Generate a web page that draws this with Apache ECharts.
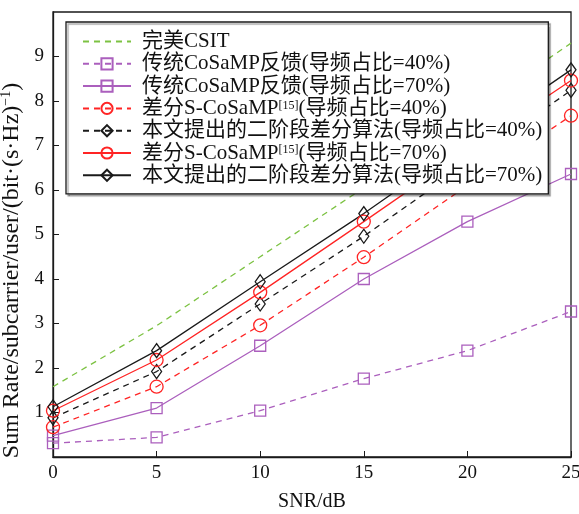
<!DOCTYPE html>
<html>
<head>
<meta charset="utf-8">
<script src="https://cdn.jsdelivr.net/npm/echarts@6/dist/echarts.min.js"></script>
<style>
  html, body { margin: 0; padding: 0; background: #fff; }
  #chart { width: 579px; height: 514px; }
</style>
</head>
<body>
<div id="chart"></div>
<script>
  // SNR (dB)
  const snr = [0, 5, 10, 15, 20, 25];

  // sum rate values
  const perfectCsit = [1.58, 2.95, 4.5, 6.05, 7.7, 9.3];
  const cosamp40 = [0.31, 0.44, 1.04, 1.76, 2.39, 3.27];
  const cosamp70 = [0.48, 1.10, 2.50, 4.00, 5.29, 6.36];
  const sCosamp40 = [0.67, 1.58, 2.96, 4.49, 6.1, 7.67];
  const proposed40 = [0.88, 1.92, 3.44, 4.96, 6.6, 8.24];
  const sCosamp70 = [1.04, 2.18, 3.70, 5.29, 6.9, 8.46];
  const proposed70 = [1.13, 2.39, 3.94, 5.47, 7.1, 8.70];

  const seriesNames = [
    '完美CSIT',
    '传统CoSaMP反馈(导频占比=40%)',
    '传统CoSaMP反馈(导频占比=70%)',
    '差分S-CoSaMP[15](导频占比=40%)',
    '本文提出的二阶段差分算法(导频占比=40%)',
    '差分S-CoSaMP[15](导频占比=70%)',
    '本文提出的二阶段差分算法(导频占比=70%)'
  ];

  const FONT = '"Liberation Serif", "Noto Sans CJK SC", serif';
  const GREEN = '#7cc242';
  const PURPLE = '#ab5fbd';
  const RED = '#ff2424';
  const BLACK = '#1a1a1a';
  const CLEAR = 'rgba(255,255,255,0)';

  function pairs(vals) {
    return snr.map((x, i) => [x, vals[i]]);
  }

  function line(name, vals, color, dashed, symbol, size) {
    return {
      name: name,
      type: 'line',
      data: pairs(vals),
      symbol: symbol || 'circle',
      symbolSize: size || 1,
      showSymbol: !!symbol,
      lineStyle: { color: color, width: 1.3, type: dashed ? [6, 5] : 'solid' },
      // no marker -> keep legend symbol invisible too
      itemStyle: { color: CLEAR, borderColor: symbol ? color : CLEAR, borderWidth: 1.3 },
      emphasis: { disabled: true },
      animation: false
    };
  }

  let myChart = echarts.init(document.getElementById('chart'));
  let option = {
    backgroundColor: '#fff',
    grid: {
      left: 53, right: 8, top: 12, bottom: 57,
      outerBoundsMode: 'none',
      show: true, borderColor: BLACK, borderWidth: 1.3
    },
    legend: {
      orient: 'vertical',
      left: 66, top: 22,
      padding: [9, 6, 8, 16],
      itemWidth: 48, itemHeight: 14, itemGap: 1.3,
      backgroundColor: '#fff',
      borderColor: BLACK, borderWidth: 1.3,
      shadowColor: 'rgba(0,0,0,0.35)', shadowOffsetX: 2, shadowOffsetY: 2, shadowBlur: 1,
      data: seriesNames,
      formatter: function (n) {
        return n.replace('[15]', '{sup|[15]}');
      },
      textStyle: {
        fontFamily: FONT, fontSize: 21, color: '#111', lineHeight: 18,
        padding: [0, 0, 0, 6],
        rich: { sup: { fontFamily: FONT, fontSize: 12, verticalAlign: 'top', lineHeight: 18, padding: [0, 0, 6, 0] } }
      }
    },
    xAxis: {
      type: 'value', min: 0, max: 25, interval: 5,
      name: 'SNR/dB', nameLocation: 'middle', nameGap: 35,
      nameTextStyle: { fontFamily: FONT, fontSize: 20, color: '#111' },
      axisLine: { lineStyle: { color: BLACK, width: 1.3 } },
      axisTick: { inside: true, length: 6, lineStyle: { color: BLACK } },
      axisLabel: { fontFamily: FONT, fontSize: 19, color: '#111', margin: 7 },
      splitLine: { show: false }
    },
    yAxis: {
      type: 'value', min: 0, max: 10, interval: 1,
      name: 'Sum Rate/subcarrier/user/(bit·(s·Hz){sup|−1})',
      nameLocation: 'middle', nameGap: 22,
      nameTextStyle: {
        fontFamily: FONT, fontSize: 24, color: '#111',
        padding: [0, 72, 0, 0],
        rich: { sup: { fontFamily: FONT, fontSize: 14, verticalAlign: 'top', padding: [0, 0, 9, 0] } }
      },
      axisLine: { lineStyle: { color: BLACK, width: 1.3 } },
      axisTick: { inside: true, length: 6, lineStyle: { color: BLACK } },
      axisLabel: { fontFamily: FONT, fontSize: 19, color: '#111', margin: 9, showMinLabel: false, showMaxLabel: false },
      splitLine: { show: false }
    },
    series: [
      line(seriesNames[0], perfectCsit, GREEN, true),
      line(seriesNames[1], cosamp40, PURPLE, true, 'rect', 11),
      line(seriesNames[2], cosamp70, PURPLE, false, 'rect', 11),
      line(seriesNames[3], sCosamp40, RED, true, 'circle', 13),
      line(seriesNames[4], proposed40, BLACK, true, 'diamond', [10, 14]),
      line(seriesNames[5], sCosamp70, RED, false, 'circle', 13),
      line(seriesNames[6], proposed70, BLACK, false, 'diamond', [10, 14])
    ]
  };
  myChart.setOption(option);
</script>
</body>
</html>
